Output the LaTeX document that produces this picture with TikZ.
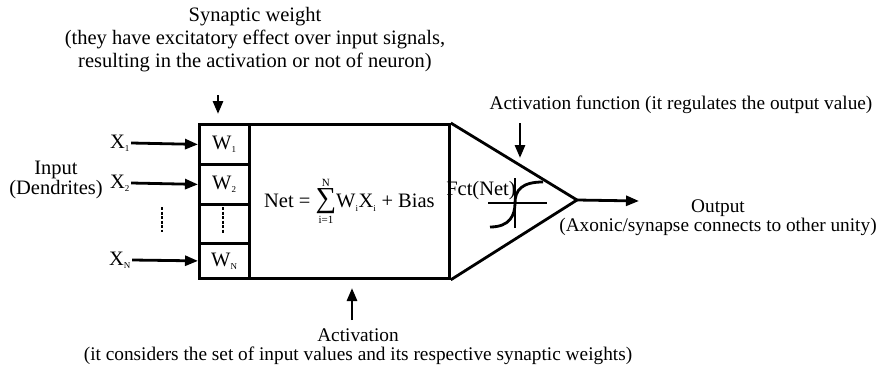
\documentclass[tikz,border=0pt]{standalone}
\usepackage{fontspec}
\setmainfont{Liberation Serif}
\usetikzlibrary{arrows.meta,positioning,calc}
\tikzset{
  cell/.style={draw, line width=2.8pt, minimum width=50pt, inner sep=0pt, anchor=north west},
  sig/.style={-{Triangle[length=13pt,width=10pt]}, line width=2.8pt},
  lbl/.style={align=center, inner sep=1pt},
  sub/.style={font=\fontsize{20.5}{15}\selectfont},
  sml/.style={font=\fontsize{19.3}{19}\selectfont},
}
\newcommand{\sbs}[1]{\textsubscript{\fontsize{9}{9}\selectfont #1}}
\newcommand{\sumlim}[1]{\mbox{\fontsize{11}{11}\selectfont #1}}

\begin{document}
\begin{tikzpicture}[x=1pt,y=-1pt,font=\fontsize{20.5}{23}\selectfont]
    \useasboundingbox (0,0) rectangle (889,369);
    % weights and summation block
    \node[cell,minimum height=40pt] (w1) at (198,123) {W\sbs{1}};
    \node[cell,minimum height=40pt] (w2) at (198,163) {W\sbs{2}};
    \node[cell,minimum height=39pt] (wd) at (198,203) {};
    \node[cell,minimum height=35pt] (wn) at (198,242) {W\sbs{N}};
    \node[cell,minimum width=200pt,minimum height=154pt] (net) at (248,123)
      {Net = $\mathop{\hbox{\fontsize{29}{29}\selectfont ∑}}\limits_{\sumlim{i=1}}^{\sumlim{N}}$W\sbs{i}X\sbs{i} + Bias};
    \coordinate (tip) at (577,200);
    \draw[line width=2.8pt,line join=miter] (net.north east) -- (tip) -- (net.south east);

    % inputs
    \node[lbl] (x1) at (120,143) {X\sbs{1}};
    \node[lbl] (x2) at (120,183) {X\sbs{2}};
    \node[lbl] (xn) at (120,260) {X\sbs{N}};
    \draw[sig] (x1.east) -- (w1.west);
    \draw[sig] (x2.east) -- (w2.west);
    \draw[sig] (xn.east) -- (wn.west);
    \draw[line width=1.4pt,dash pattern=on 3pt off 1.5pt] (162,207) -- (162,232);
    \draw[line width=1.4pt,dash pattern=on 3pt off 1.5pt] (223,207) -- (223,233);
    \node[lbl,sub] (inp) at (56,180) {Input\\(Dendrites)};

    % synaptic weight
    \node[lbl] (synw) at (255,40) {Synaptic weight\\(they have excitatory effect over input signals,\\resulting in the activation or not of neuron)};
    \coordinate (sw-a) at (218,95);
    \coordinate (sw-b) at (218,114);
    \draw[sig] (sw-a) -- (sw-b);

    % activation function
    \node[lbl] (fct) at (481,191) {Fct(Net)};
    \draw[line width=2.8pt] (488,203) -- (547,203);
    \draw[line width=2.8pt] (515,178) -- (515,228);
    \draw[line width=2.8pt] (490,227) .. controls (510,227) and (515,215) .. (515,203)
      .. controls (515,190) and (522,182) .. (543,182);
    \node[lbl,sml] (actf) at (681,105) {Activation function (it regulates the output value)};
    \coordinate (af-a) at (520,123);
    \coordinate (af-b) at (520,158);
    \draw[sig] (af-a) -- (af-b);

    % output
    \coordinate (outend) at (639,201);
    \draw[sig] (tip) -- (outend);
    \node[lbl,sml] (outp) at (718,218) {Output\\(Axonic/synapse connects to other unity)};

    % activation
    \node[lbl,sml] (act) at (358,347) {Activation\\(it considers the set of input values and its respective synaptic weights)};
    \coordinate (ac-a) at (352,320);
    \coordinate (ac-b) at (352,288);
    \draw[sig] (ac-a) -- (ac-b);
\end{tikzpicture}
\end{document}
